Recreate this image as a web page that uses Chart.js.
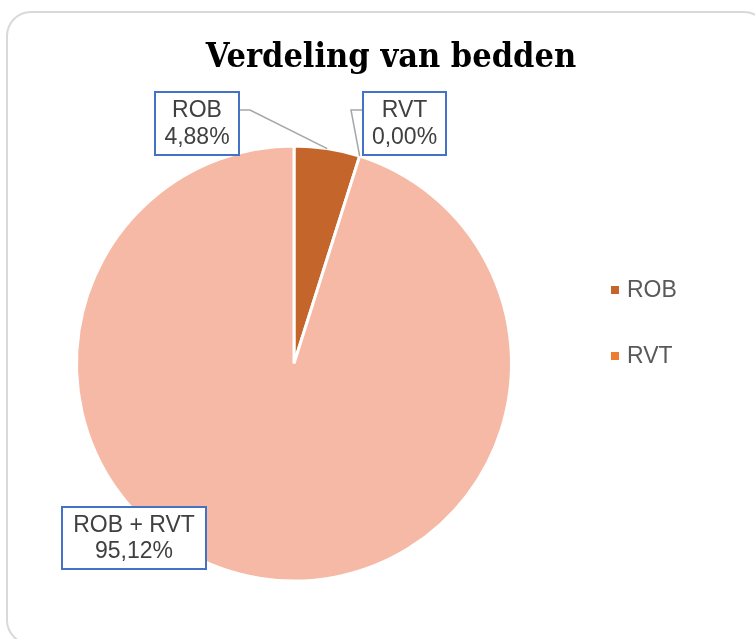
<!DOCTYPE html>
<html>
<head>
<meta charset="utf-8">
<script src="https://cdn.jsdelivr.net/npm/chart.js@4.4.1/dist/chart.umd.min.js"></script>
<style>
  html, body { margin: 0; padding: 0; background: #fff; overflow: hidden; }
  #wrap { position: relative; width: 755px; height: 639px; overflow: hidden; }
  #card {
    position: absolute; left: 6px; top: 11px; width: 763px; height: 634px;
    border: 2px solid #d9d9d9; border-radius: 25px; box-sizing: border-box;
  }
  canvas { position: absolute; left: 0; top: 0; }
</style>
</head>
<body>
<div id="wrap">
  <div id="card"></div>
  <canvas id="pieChart" width="755" height="639"></canvas>
</div>
<script>
// data
const categories = ['ROB', 'RVT', 'ROB + RVT'];
const shares = [4.88, 0.00, 95.12];
const sliceColors = ['#C4652B', '#ED7D31', '#F5B9A5'];
const legendItems = ['ROB', 'RVT'];
const chartTitle = 'Verdeling van bedden';

function pctText(v, total) {
    return (v / total * 100).toFixed(2).replace('.', ',') + '%';
}

// title, legend and boxed data labels with leader lines
const decorPlugin = {
    id: 'decor',
    afterDatasetsDraw(chart, args, opts) {
        const ctx = chart.ctx;
        const meta = chart.getDatasetMeta(0);
        const data = chart.data.datasets[0].data;
        const total = data.reduce((a, b) => a + b, 0);

        ctx.save();
        // title
        ctx.fillStyle = '#000';
        ctx.font = 'bold 34px "DejaVu Serif Condensed", "DejaVu Serif"';
        ctx.textAlign = 'center';
        ctx.textBaseline = 'alphabetic';
        ctx.fillText(chartTitle, 391, 67);

        // legend
        ctx.font = '23px "Liberation Sans"';
        ctx.textAlign = 'left';
        ctx.textBaseline = 'middle';
        legendItems.forEach((name, i) => {
            const y = opts.legend.y[i];
            const idx = chart.data.labels.indexOf(name);
            ctx.fillStyle = sliceColors[idx];
            ctx.fillRect(opts.legend.x, y - 4, 8, 8);
            ctx.fillStyle = '#595959';
            ctx.fillText(name, opts.legend.x + 16, y + 1);
        });

        // data labels
        meta.data.forEach((arc, i) => {
            const box = opts.boxes[i];
            const p = arc.getProps(['x', 'y', 'startAngle', 'endAngle', 'outerRadius'], true);
            const mid = (p.startAngle + p.endAngle) / 2;
            const ax = p.x + Math.cos(mid) * p.outerRadius;
            const ay = p.y + Math.sin(mid) * p.outerRadius;
            const cy = box.y + box.h / 2 - 13.5;

            if (box.leader) {
                const edgeX = box.leader === 'right' ? box.x + box.w : box.x;
                const elbowX = box.leader === 'right' ? edgeX + 11 : edgeX - 12;
                ctx.strokeStyle = '#a6a6a6';
                ctx.lineWidth = 1.5;
                ctx.beginPath();
                ctx.moveTo(edgeX, cy);
                ctx.lineTo(elbowX, cy);
                ctx.lineTo(ax, ay);
                ctx.stroke();
            }

            ctx.fillStyle = '#fff';
            ctx.fillRect(box.x, box.y, box.w, box.h);
            ctx.strokeStyle = '#4472C4';
            ctx.lineWidth = 2;
            ctx.strokeRect(box.x, box.y, box.w, box.h);

            ctx.fillStyle = '#404040';
            ctx.font = '23px "Liberation Sans"';
            ctx.textAlign = 'center';
            ctx.textBaseline = 'middle';
            const tx = box.x + box.w / 2;
            ctx.fillText(chart.data.labels[i], tx, box.y + box.h / 2 - 12.5);
            ctx.fillText(pctText(data[i], total), tx, box.y + box.h / 2 + 14);
        });
        ctx.restore();
    }
};

const ctx = document.getElementById('pieChart').getContext('2d');
new Chart(ctx, {
    type: 'pie',
    data: {
        labels: categories,
        datasets: [{
            data: shares,
            backgroundColor: sliceColors,
            borderColor: '#ffffff',
            borderWidth: 3
        }]
    },
    options: {
        responsive: false,
        animation: false,
        layout: {
            padding: { left: 75, right: 242, top: 144, bottom: 56 }
        },
        plugins: {
            legend: { display: false },
            tooltip: { enabled: false },
            title: { display: false },
            decor: {
                legend: { x: 611, y: [290, 356] },
                boxes: [
                    { x: 155, y: 92, w: 84, h: 63, leader: 'right' },
                    { x: 363, y: 92, w: 83, h: 63, leader: 'left' },
                    { x: 62, y: 507, w: 144, h: 62, leader: null }
                ]
            }
        }
    },
    plugins: [decorPlugin]
});
</script>
</body>
</html>
